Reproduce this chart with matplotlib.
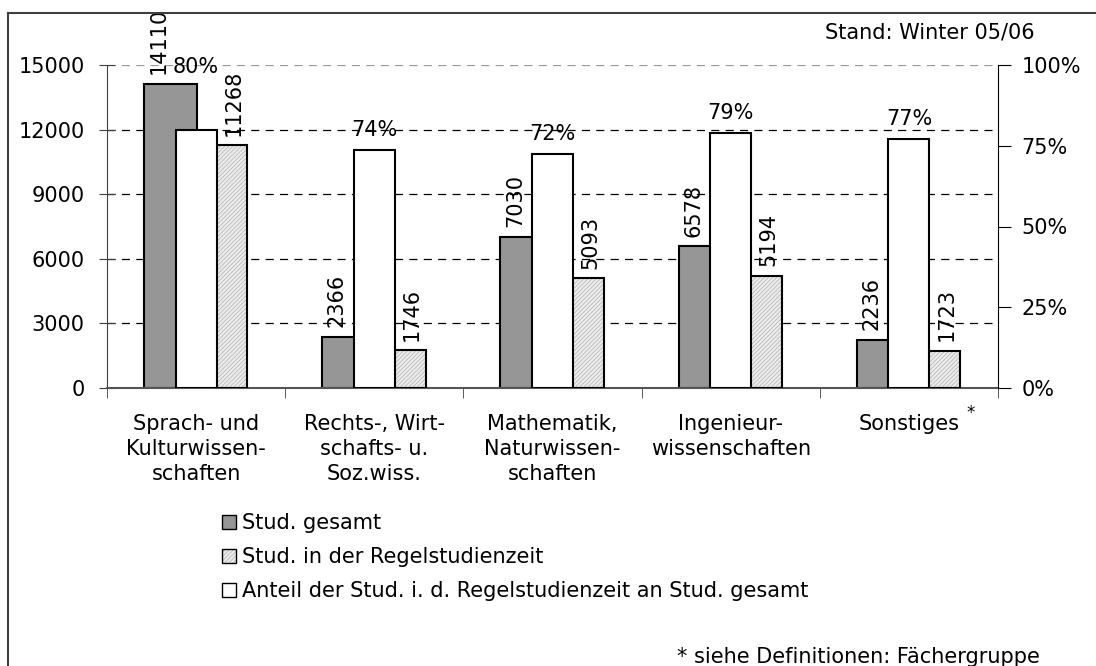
import matplotlib
matplotlib.use('Agg')
import matplotlib.pyplot as plt
import matplotlib.patches as mpatches
from matplotlib.ticker import FuncFormatter
import numpy as np

categories = ['Sprach- und\nKulturwissen-\nschaften',
              'Rechts-, Wirt-\nschafts- u.\nSoz.wiss.',
              'Mathematik,\nNaturwissen-\nschaften',
              'Ingenieur-\nwissenschaften',
              'Sonstiges']
gesamt = [14110, 2366, 7030, 6578, 2236]
regel = [11268, 1746, 5093, 5194, 1723]
anteil = [0.799, 0.738, 0.724, 0.790, 0.771]

plt.rcParams['font.family'] = 'DejaVu Sans'
plt.rcParams['font.size'] = 15
plt.rcParams['hatch.linewidth'] = 0.5

gray = '#969696'
hatch_face = '#ececec'
hatch_col = '#b0b0b0'

fig = plt.figure(figsize=(10.96, 6.66), dpi=100)
ax = fig.add_axes([107/1096, 1 - 388/666, (998 - 107)/1096, (388 - 65)/666])
ax2 = ax.twinx()

x = np.arange(len(categories))
w = 0.295

# primary axis bars
ax.bar(x - 0.145, gesamt, w, color=gray, edgecolor='black', linewidth=1.5, zorder=2)
ax.bar(x + 0.14, regel, w, color=hatch_face, edgecolor=hatch_col, hatch='////////',
       linewidth=0, zorder=2)
ax.bar(x + 0.14, regel, w, fill=False, edgecolor='black', linewidth=1.5, zorder=3)

for i in range(len(x)):
    ax.annotate(str(gesamt[i]), (x[i] - 0.21, gesamt[i]), xytext=(0, 7),
                textcoords='offset points', rotation=90, ha='center', va='bottom')
    ax.annotate(str(regel[i]), (x[i] + 0.21, regel[i]), xytext=(0, 7),
                textcoords='offset points', rotation=90, ha='center', va='bottom')

ax.set_xlim(-0.5, 4.5)
ax.set_ylim(0, 15000)
ax.set_yticks(np.arange(0, 15001, 3000))
ax.set_axisbelow(True)
ax.yaxis.grid(True, color='black', linestyle=(0, (6.5, 5)), linewidth=0.9)
ax.get_ygridlines()[-1].set_color('#999999')
ax.get_ygridlines()[0].set_visible(False)

ax.set_xticks(x)
ax.set_xticklabels(categories, linespacing=1.3)
ax.tick_params(axis='x', length=0, pad=19)
ax.set_xticks(np.arange(-0.5, 5, 1), minor=True)
ax.tick_params(axis='x', which='minor', length=7, direction='out', color='#404040')
ax.tick_params(axis='y', direction='inout', length=12, pad=10, color='#404040')

for s in ['top', 'right']:
    ax.spines[s].set_visible(False)
ax.spines['left'].set_color('#404040')
ax.spines['bottom'].set_color('#555555')
ax.spines['bottom'].set_linewidth(1.5)

# secondary axis bars
ax2.bar(x, anteil, 0.23, color='white', edgecolor='black', linewidth=1.5, zorder=2)
for i in range(len(x)):
    dy = 38 if i == 0 else 7
    ax2.annotate('%d%%' % round(anteil[i] * 100), (x[i], anteil[i]), xytext=(0, dy),
                 textcoords='offset points', ha='center', va='bottom')
ax2.set_ylim(0, 1)
ax2.set_yticks([0, 0.25, 0.5, 0.75, 1.0])
ax2.yaxis.set_major_formatter(FuncFormatter(lambda v, p: '%d%%' % round(v * 100)))
ax2.tick_params(axis='y', direction='out', length=9, pad=8)
for s in ['top', 'left', 'bottom']:
    ax2.spines[s].set_visible(False)

# legend
h_gray = mpatches.Patch(facecolor=gray, edgecolor='black', linewidth=1)
h_hatch = (mpatches.Patch(facecolor=hatch_face, edgecolor=hatch_col, hatch='////////', linewidth=0),
           mpatches.Patch(fill=False, edgecolor='black', linewidth=1))
h_white = mpatches.Patch(facecolor='white', edgecolor='black', linewidth=1)
fig.legend([h_gray, h_hatch, h_white],
           ['Stud. gesamt', 'Stud. in der Regelstudienzeit',
            'Anteil der Stud. i. d. Regelstudienzeit an Stud. gesamt'],
           loc='upper left', bbox_to_anchor=(222/1096, 1 - 513/666), frameon=False,
           handlelength=0.68, handleheight=0.68, handletextpad=0.3,
           labelspacing=0.68, borderpad=0, borderaxespad=0)

# texts
fig.text(966/1096, 1 - 413/666, '*', fontsize=12, ha='left', va='center')
fig.text(1035/1096, 1 - 33/666, 'Stand: Winter 05/06', ha='right', va='center')
fig.text(1040/1096, 1 - 657/666, '* siehe Definitionen: Fächergruppe', ha='right', va='center')

# outer border (top and left)
fig.add_artist(plt.Line2D([8/1096, 8/1096], [0, 1 - 13/666], color='#404040', linewidth=1.5))
fig.add_artist(plt.Line2D([8/1096, 1], [1 - 13/666, 1 - 13/666], color='#404040', linewidth=1.5))

fig.savefig('out.png', dpi=100)
